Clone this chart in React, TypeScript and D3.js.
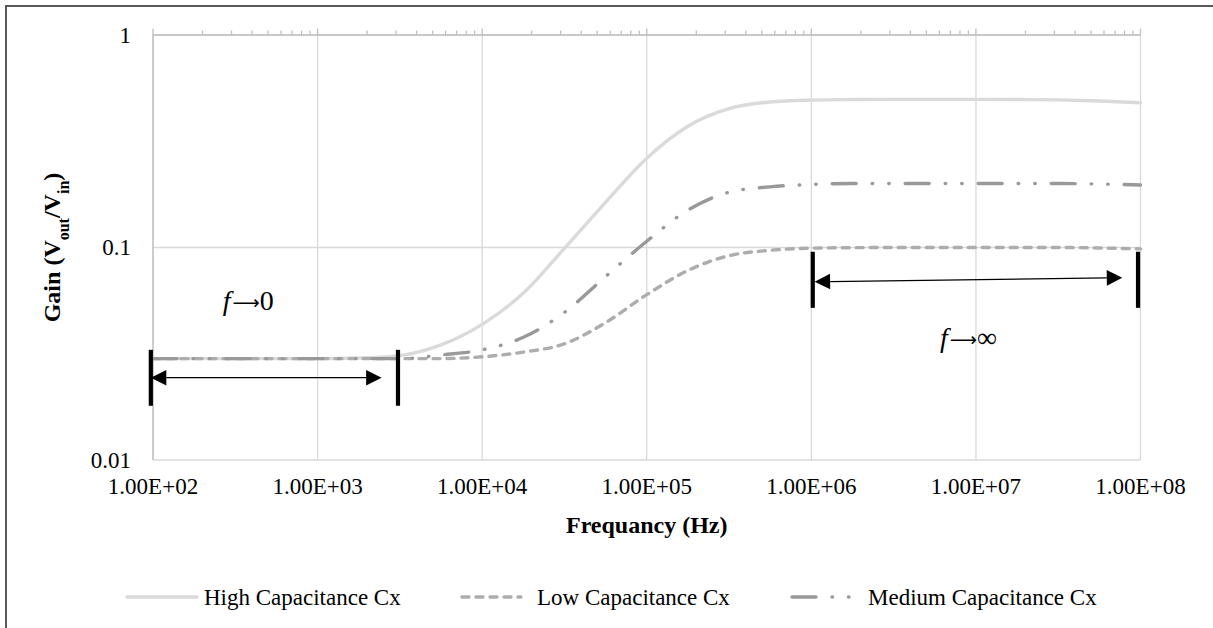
import React from 'react';
import * as d3 from 'd3';

// Frequency grid (Hz), quarter-decade steps from 1e2 to 1e8
const frequencies = [
  1e2, 1.78e2, 3.16e2, 5.62e2,
  1e3, 1.78e3, 3.16e3, 5.62e3,
  1e4, 1.78e4, 3.16e4, 5.62e4,
  1e5, 1.78e5, 3.16e5, 5.62e5,
  1e6, 1.78e6, 3.16e6, 5.62e6,
  1e7, 1.78e7, 3.16e7, 5.62e7,
  1e8,
];

// Gain (Vout/Vin) for each capacitance case
const highGain = [
  0.030, 0.030, 0.030, 0.030,
  0.030, 0.0302, 0.031, 0.0348,
  0.0435, 0.061, 0.099, 0.163,
  0.263, 0.372, 0.450, 0.484,
  0.494, 0.497, 0.498, 0.498,
  0.498, 0.497, 0.495, 0.489,
  0.480,
];
const lowGain = [
  0.030, 0.030, 0.030, 0.030,
  0.030, 0.030, 0.030, 0.030,
  0.0306, 0.0322, 0.0352, 0.0443,
  0.060, 0.078, 0.0915, 0.097,
  0.0993, 0.0998, 0.100, 0.100,
  0.100, 0.100, 0.100, 0.0995,
  0.0985,
];
const mediumGain = [
  0.030, 0.030, 0.030, 0.030,
  0.030, 0.030, 0.030, 0.0312,
  0.033, 0.0378, 0.0495, 0.073,
  0.107, 0.150, 0.182, 0.193,
  0.198, 0.200, 0.200, 0.200,
  0.200, 0.200, 0.200, 0.199,
  0.197,
];

const seriesNames = ['High Capacitance Cx', 'Low Capacitance Cx', 'Medium Capacitance Cx'];
const seriesValues = [highGain, lowGain, mediumGain];

const xTickValues = [1e2, 1e3, 1e4, 1e5, 1e6, 1e7, 1e8];
const xTickLabels = ['1.00E+02', '1.00E+03', '1.00E+04', '1.00E+05', '1.00E+06', '1.00E+07', '1.00E+08'];
const yTickValues = [0.01, 0.1, 1];
const yTickLabels = ['0.01', '0.1', '1'];

// Annotation brackets: [frequency (Hz), gain]
const lowBandBarFreqs = [97, 3080];
const lowBandBarGains = [0.018, 0.033];
const lowBandArrow = [[97, 0.0244], [2450, 0.0244]];
const lowBandLabelAt = [379, 0.0508];
const lowBandLimit = '0';

const highBandBarFreqs = [1.02e6, 9.66e7];
const highBandBarGains = [0.052, 0.0955];
const highBandArrow = [[1.047e6, 0.069], [7.75e7, 0.0721]];
const highBandLabelAt = [9.0e6, 0.0341];
const highBandLimit = '∞';

// Presentation
const W = 1213;
const H = 628;
const plot = { left: 153, right: 1140.5, top: 35, bottom: 460 };
const FONT = "'Liberation Serif', 'Times New Roman', serif";
const seriesStyles = [
  { color: '#dadada', width: 3.4, dash: undefined as string | undefined },
  { color: '#adadad', width: 3.4, dash: '7 7' },
  { color: '#999999', width: 3.4, dash: '24 16 0.5 16 0.5 16' },
];
const legendSymbolX = [127, 462, 792];
const legendSymbolW = [70, 59, 64];
const legendTextX = [204, 537, 868];
const legendY = 597;

function DoubleArrow({ p1, p2 }: { p1: [number, number]; p2: [number, number] }) {
  const hl = 15.5;
  const hw = 7.8;
  const dx = p2[0] - p1[0];
  const dy = p2[1] - p1[1];
  const len = Math.hypot(dx, dy);
  const ux = dx / len;
  const uy = dy / len;
  const nx = -uy;
  const ny = ux;
  const a = [p1[0] + ux * hl, p1[1] + uy * hl];
  const b = [p2[0] - ux * hl, p2[1] - uy * hl];
  const head1 = [
    [p1[0], p1[1]],
    [a[0] + nx * hw, a[1] + ny * hw],
    [a[0] - nx * hw, a[1] - ny * hw],
  ];
  const head2 = [
    [p2[0], p2[1]],
    [b[0] + nx * hw, b[1] + ny * hw],
    [b[0] - nx * hw, b[1] - ny * hw],
  ];
  return (
    <g>
      <line x1={a[0]} y1={a[1]} x2={b[0]} y2={b[1]} stroke="#000" strokeWidth={1.3} />
      <polygon points={head1.map((p) => p.join(',')).join(' ')} fill="#000" />
      <polygon points={head2.map((p) => p.join(',')).join(' ')} fill="#000" />
    </g>
  );
}

function LimitLabel({ x, y, limit }: { x: number; y: number; limit: string }) {
  return (
    <text x={x} y={y} textAnchor="middle" fontSize={28} fill="#000">
      <tspan fontStyle="italic">f</tspan>
      <tspan fontFamily="'DejaVu Sans'" fontSize={19} dx={2} dy={-1}>⟶</tspan>
      <tspan dy={1}>{limit}</tspan>
    </text>
  );
}

export default function App() {
  const x = d3.scaleLog().domain([1e2, 1e8]).range([plot.left, plot.right]);
  const y = d3.scaleLog().domain([0.01, 1]).range([plot.bottom, plot.top]);

  const line = d3
    .line<[number, number]>()
    .x((d) => x(d[0]))
    .y((d) => y(d[1]))
    .curve(d3.curveMonotoneX);

  const minorTicks: number[] = [];
  for (let e = 2; e < 8; e++) {
    for (let k = 2; k <= 9; k++) minorTicks.push(k * Math.pow(10, e));
  }

  const bracketBars = (freqs: number[], gains: number[]) =>
    freqs.map((f, i) => (
      <line
        key={i}
        x1={x(f)}
        x2={x(f)}
        y1={y(gains[1])}
        y2={y(gains[0])}
        stroke="#000"
        strokeWidth={4.2}
      />
    ));

  return (
    <svg
      width={W}
      height={H}
      style={{ position: 'absolute', left: 0, top: 0, background: '#fff' }}
      fontFamily={FONT}
    >
      <rect x={0} y={0} width={W} height={H} fill="#fff" />
      <rect x={6} y={6} width={W + 20} height={H + 20} fill="none" stroke="#595959" strokeWidth={2} />

      {/* gridlines */}
      {xTickValues.map((v) => (
        <line key={'gx' + v} x1={x(v)} x2={x(v)} y1={plot.top} y2={plot.bottom} stroke="#d9d9d9" strokeWidth={1.3} />
      ))}
      {yTickValues.map((v) => (
        <line key={'gy' + v} x1={plot.left} x2={plot.right} y1={y(v)} y2={y(v)} stroke="#d9d9d9" strokeWidth={1.3} />
      ))}

      {/* axes */}
      <line x1={plot.left} x2={plot.left} y1={plot.top} y2={plot.bottom} stroke="#bfbfbf" strokeWidth={1.3} />
      <line x1={plot.left} x2={plot.right} y1={plot.top} y2={plot.top} stroke="#bfbfbf" strokeWidth={1.6} />
      {xTickValues.map((v) => (
        <line key={'mt' + v} x1={x(v)} x2={x(v)} y1={plot.top} y2={plot.top - 6.5} stroke="#bfbfbf" strokeWidth={1.3} />
      ))}
      {minorTicks.map((v) => (
        <line key={'nt' + v} x1={x(v)} x2={x(v)} y1={plot.top - 0.5} y2={plot.top - 4.5} stroke="#bfbfbf" strokeWidth={1.3} />
      ))}

      {/* tick labels */}
      {xTickValues.map((v, i) => (
        <text key={'xl' + v} x={x(v)} y={494} textAnchor="middle" fontSize={23} fill="#000">
          {xTickLabels[i]}
        </text>
      ))}
      {yTickValues.map((v, i) => (
        <text key={'yl' + v} x={131} y={y(v)} dy="0.33em" textAnchor="end" fontSize={23} fill="#000">
          {yTickLabels[i]}
        </text>
      ))}

      {/* axis titles */}
      <text x={(plot.left + plot.right) / 2} y={533} textAnchor="middle" fontSize={24} fontWeight="bold" fill="#000">
        Frequancy (Hz)
      </text>
      <text
        transform={`translate(60,${(plot.top + plot.bottom) / 2}) rotate(-90)`}
        textAnchor="middle"
        fontSize={24}
        fontWeight="bold"
        fill="#000"
      >
        Gain (V
        <tspan baselineShift="sub" fontSize={16}>out</tspan>
        /V
        <tspan baselineShift="sub" fontSize={16}>in</tspan>)
      </text>

      {/* series */}
      {seriesValues.map((vals, i) => {
        const pts = frequencies.map((f, j) => [f, vals[j]] as [number, number]);
        const s = seriesStyles[i];
        return (
          <path
            key={seriesNames[i]}
            d={line(pts) || ''}
            fill="none"
            stroke={s.color}
            strokeWidth={s.width}
            strokeDasharray={s.dash}
            strokeLinecap="round"
            strokeLinejoin="round"
          />
        );
      })}

      {/* low-frequency bracket */}
      {bracketBars(lowBandBarFreqs, lowBandBarGains)}
      <DoubleArrow
        p1={[x(lowBandArrow[0][0]), y(lowBandArrow[0][1])]}
        p2={[x(lowBandArrow[1][0]), y(lowBandArrow[1][1])]}
      />
      <LimitLabel x={x(lowBandLabelAt[0])} y={y(lowBandLabelAt[1])} limit={lowBandLimit} />

      {/* high-frequency bracket */}
      {bracketBars(highBandBarFreqs, highBandBarGains)}
      <DoubleArrow
        p1={[x(highBandArrow[0][0]), y(highBandArrow[0][1])]}
        p2={[x(highBandArrow[1][0]), y(highBandArrow[1][1])]}
      />
      <LimitLabel x={x(highBandLabelAt[0])} y={y(highBandLabelAt[1])} limit={highBandLimit} />

      {/* legend */}
      {seriesNames.map((name, i) => {
        const s = seriesStyles[i];
        return (
          <g key={'lg' + name}>
            <line
              x1={legendSymbolX[i]}
              x2={legendSymbolX[i] + legendSymbolW[i]}
              y1={legendY}
              y2={legendY}
              stroke={s.color}
              strokeWidth={s.width}
              strokeDasharray={s.dash}
              strokeLinecap="round"
            />
            <text x={legendTextX[i]} y={legendY} dy="0.33em" fontSize={23} fill="#000">
              {name}
            </text>
          </g>
        );
      })}
    </svg>
  );
}
